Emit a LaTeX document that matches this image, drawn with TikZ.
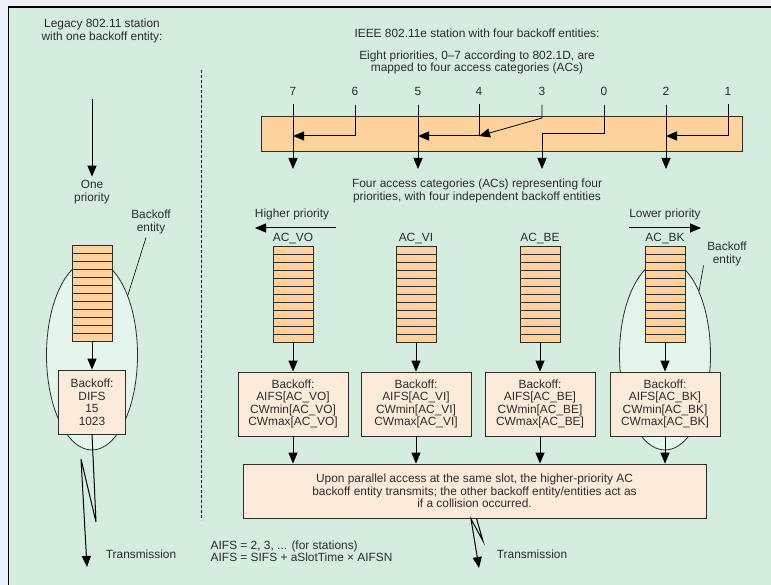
\documentclass[tikz,border=0pt]{standalone}
\usepackage{fontspec}
\setmainfont{Liberation Sans}
\usepackage{xcolor}
\usepackage{tikz}
\usetikzlibrary{arrows.meta, positioning, calc, shapes.geometric}

\definecolor{bggreen}{RGB}{212,237,222}
\definecolor{entgreen}{RGB}{228,245,235}
\definecolor{qorange}{RGB}{253,210,156}
\definecolor{bpeach}{RGB}{253,235,218}
\definecolor{txtgray}{RGB}{45,45,45}
\definecolor{outblue}{RGB}{236,241,250}

\begin{document}
\begin{tikzpicture}[
    x=1pt, y=-1pt,
    line width=0.8pt,
    font=\fontsize{11.9}{12.5}\selectfont,
    every node/.style={text=txtgray},
    arr/.style={-{Triangle[length=11pt,width=9pt]}, line width=1pt},
    queue/.style={rectangle, draw=txtgray, fill=qorange, minimum width=40pt, minimum height=96pt, inner sep=0pt,
        path picture={\foreach \k in {1,...,11}{\draw[line width=0.7pt] ([yshift=\k*8pt]path picture bounding box.south west) -- ([yshift=\k*8pt]path picture bounding box.south east);}}},
    bobox/.style={rectangle, draw=txtgray, fill=bpeach, minimum width=110pt, minimum height=64pt, align=center, inner sep=1pt},
    entity/.style={ellipse, draw=txtgray, fill=entgreen, minimum width=91pt, minimum height=190pt, inner sep=0pt},
    prio/.style={inner xsep=1pt, inner ysep=9pt}
]
\useasboundingbox (0,0) rectangle (771,585);

% Frame
\fill[outblue] (0,0) rectangle (771,585);
\fill[bggreen] (8,7) rectangle (771,585);
\draw[line width=2pt] (8,7) -- (771,7);
\draw[line width=1pt] (8,7) -- (8,585);

% Separator
\coordinate (dtop) at (201,70);
\coordinate (dbot) at (201,520);
\draw[dashed, line width=0.6pt, dash pattern=on 3pt off 2pt] (dtop) -- (dbot);

% Legacy station
\node[align=center] (legacy) at (102,31) {Legacy 802.11 station\\with one backoff entity:};
\coordinate (lin) at (92,99);
\node[align=center] (onepr) at (92,192) {One\\priority};
\draw[arr] (lin) -- (onepr.north);

\node[entity] (lell) at (92,355) {};
\node[align=center] (lbe) at (151,222) {Backoff\\entity};
\draw[line width=0.6pt] ([xshift=-5pt]lbe.south) -- (lell.59);

\node[queue] (lq) at (92,293) {};
\node[bobox, minimum width=67pt] (lbox) at (92,402) {Backoff:\\DIFS\\15\\1023};
\draw[arr] (lq.south) -- (lbox.north);

\coordinate (ltx) at (87,567);
\draw[arr] (lbox.south) -- (96,522) -- (81,459) -- (ltx);
\node (ltrans) at (141,554) {Transmission};

% IEEE 802.11e station
\node (e11) at (477,33) {IEEE 802.11e station with four backoff entities:};
\node[align=center] (eightp) at (477,62.5) {Eight priorities, 0--7 according to 802.1D, are\\mapped to four access categories (ACs)};

\node[rectangle, draw=txtgray, fill=qorange, minimum width=481pt, minimum height=35pt] (bar) at (501.5,133.5) {};

\foreach \lab/\px in {7/293, 6/355, 5/418, 4/479, 3/542, 0/604, 2/666, 1/728}
    \node[prio] (p\lab) at (\px,91) {\lab};

\coordinate (mid) at (0,136);
\coordinate (k3) at (542,118);
\coordinate (k0) at (542,134);
\coordinate (tVO) at (293,169);
\coordinate (tVI) at (418,169);
\coordinate (tBE) at (542,169);
\coordinate (tBK) at (666,169);

% Mapping of priorities
\draw[arr] (p7.south) -- (tVO);
\draw[arr] (p6.south) |- (p7 |- mid);
\draw[arr] (p5.south) -- (tVI);
\draw[arr] (p4.south) |- (p5 |- mid);
\draw[arr, line width=0.8pt] (p3.south) -- (k3) -- (p4 |- mid);
\draw[arr] (p0.south) |- (k0) -- (tBE);
\draw[arr] (p2.south) -- (tBK);
\draw[arr] (p1.south) |- (p2 |- mid);

\node[align=center] (fourac) at (477,191) {Four access categories (ACs) representing four\\priorities, with four independent backoff entities};

% Priority direction
\node (hiprio) at (292,214) {Higher priority};
\coordinate (hiA) at (336,228);
\coordinate (hiB) at (255,228);
\draw[arr] (hiA) -- (hiB);
\node (loprio) at (665,214) {Lower priority};
\coordinate (loA) at (629,228);
\coordinate (loB) at (701,228);
\draw[arr] (loA) -- (loB);

% Backoff entity around AC_BK
\node[entity] (rell) at (665,355) {};
\node[align=center] (rbe) at (727,254) {Backoff\\entity};
\draw[line width=0.6pt] ([yshift=4pt]rbe.south west) -- (rell.62);

% Access categories
\foreach \ac/\px in {VO/293, VI/416, BE/540, BK/665} {
    \node[queue] (q\ac) at (\px,294) {};
    \node[above=0pt of q\ac, inner sep=1pt] (l\ac) {AC\_\ac};
    \node[bobox] (b\ac) at (\px,404) {Backoff:\\AIFS[AC\_\ac]\\CWmin[AC\_\ac]\\CWmax[AC\_\ac]};
    \draw[arr] (q\ac.south) -- (b\ac.north);
}

% Collision handling
\node[rectangle, draw=txtgray, fill=bpeach, minimum width=463pt, minimum height=54pt, align=center] (big) at (474.5,491)
    {Upon parallel access at the same slot, the higher-priority AC\\backoff entity transmits; the other backoff entity/entities act as\\if a collision occurred.};
\foreach \ac in {VO, VI, BE, BK}
    \draw[arr] (b\ac.south) -- (b\ac.south |- big.north);

\coordinate (rtx) at (479,568);
\draw[arr] ([xshift=2pt]big.south) -- (483,541) -- (471,519) -- (rtx);
\node (rtrans) at (532,554) {Transmission};

\node[align=left, anchor=west] (aifs) at (207,551) {AIFS = 2, 3, ... (for stations)\\AIFS = SIFS + aSlotTime × AIFSN};

\end{tikzpicture}
\end{document}
